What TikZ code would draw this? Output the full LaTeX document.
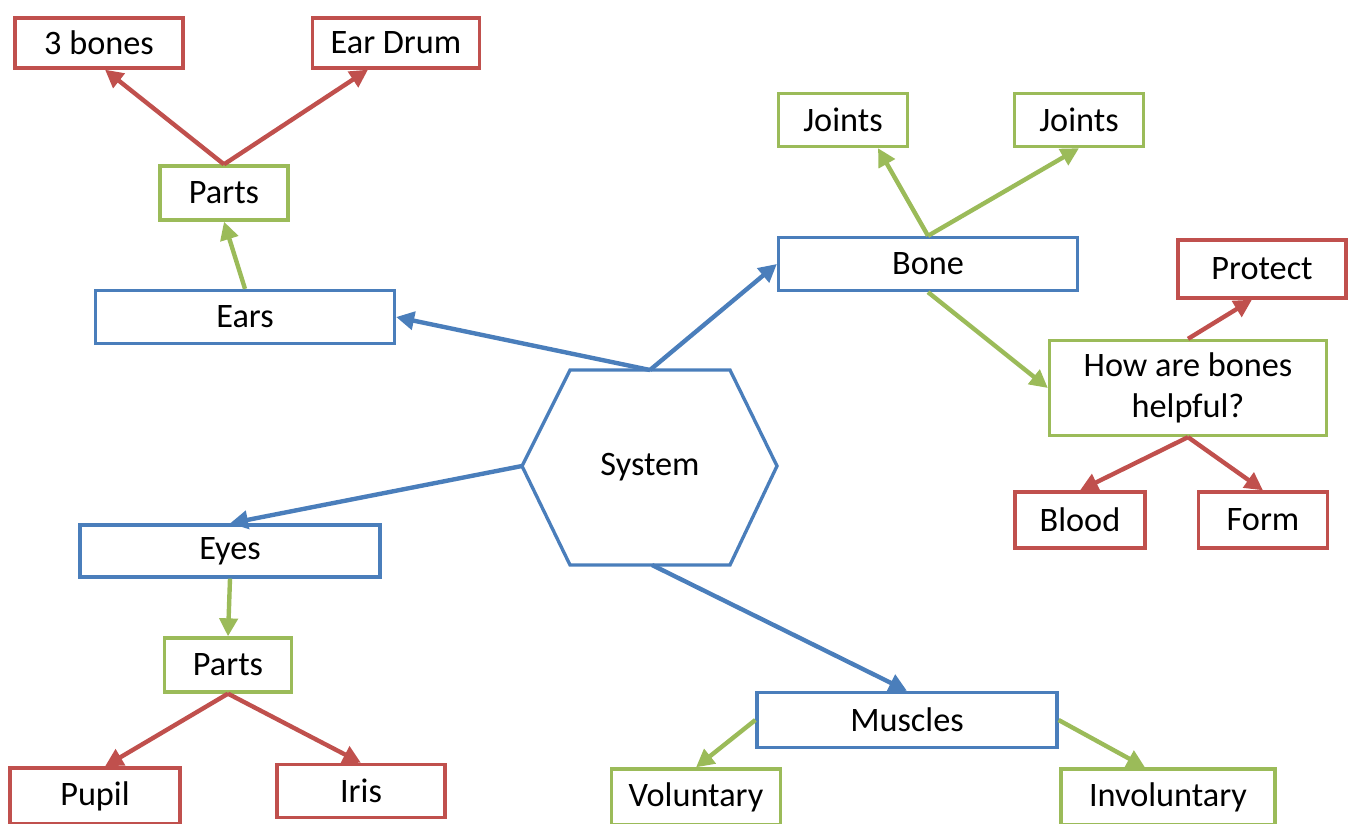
\documentclass[tikz,border=0pt]{standalone}
\usepackage{fontspec}
\setmainfont{Carlito}
\usetikzlibrary{arrows.meta,calc}
\definecolor{oblue}{RGB}{74,126,187}
\definecolor{ored}{RGB}{192,80,77}
\definecolor{ogreen}{RGB}{155,187,89}
\tikzset{
  box/.style={draw, line width=1.9pt, fill=white, inner sep=2pt, font=\fontsize{19.5}{23}\selectfont, align=center},
  bbox/.style={box, draw=oblue},
  rbox/.style={box, draw=ored},
  gbox/.style={box, draw=ogreen},
  conn/.style={line width=2.5pt, -{Triangle[length=0.36cm,width=0.36cm]}},
  bconn/.style={conn, draw=oblue, fill=oblue},
  rconn/.style={conn, draw=ored, fill=ored},
  gconn/.style={conn, draw=ogreen, fill=ogreen},
}
\begin{document}
\begin{tikzpicture}[x=0.02cm,y=-0.02cm]
\useasboundingbox (0,0) rectangle (1351,824);
% hexagon
\coordinate (hL) at (522,466);
\coordinate (hTL) at (570,370);
\coordinate (hTR) at (730,370);
\coordinate (hR) at (777,466);
\coordinate (hBR) at (730,565);
\coordinate (hBL) at (570,565);
\coordinate (hTop) at (650,370);
\coordinate (hBot) at (652,565);
\draw[oblue, line width=1.9pt, fill=white, line join=miter] (hL) -- (hTL) -- (hTR) -- (hR) -- (hBR) -- (hBL) -- cycle;
\node[font=\fontsize{19.5}{23}\selectfont] (system) at (650,467) {System};
% nodes
\node[rbox, minimum width=3.36cm, minimum height=1.0cm] (b3) at (99,43) {3 bones};
\node[rbox, minimum width=3.34cm, minimum height=1.0cm] (eardrum) at (396,43) {Ear Drum};
\node[gbox, minimum width=2.56cm, minimum height=1.08cm] (partsE) at (224,193) {Parts};
\node[bbox, minimum width=5.98cm, minimum height=1.06cm] (ears) at (245,317) {Ears};
\node[gbox, minimum width=2.58cm, minimum height=1.06cm] (joints1) at (843,120) {Joints};
\node[gbox, minimum width=2.58cm, minimum height=1.06cm] (joints2) at (1079,120) {Joints};
\node[bbox, minimum width=5.98cm, minimum height=1.06cm] (bone) at (928,264) {Bone};
\node[rbox, minimum width=3.36cm, minimum height=1.16cm] (protect) at (1262,269) {Protect};
\node[gbox, minimum width=5.54cm, minimum height=1.9cm] (how) at (1188,388) {How are bones\\helpful?};
\node[rbox, minimum width=2.6cm, minimum height=1.12cm] (blood) at (1080,520) {Blood};
\node[rbox, minimum width=2.58cm, minimum height=1.12cm] (form) at (1263,520) {Form};
\node[bbox, minimum width=6cm, minimum height=1.04cm] (eyes) at (230,551) {Eyes};
\node[gbox, minimum width=2.54cm, minimum height=1.08cm] (partsY) at (228,665) {Parts};
\node[rbox, minimum width=3.4cm, minimum height=1.12cm] (pupil) at (95,796) {Pupil};
\node[rbox, minimum width=3.36cm, minimum height=1.06cm] (iris) at (361,791) {Iris};
\node[bbox, minimum width=6cm, minimum height=1.1cm] (muscles) at (907,720) {Muscles};
\node[gbox, minimum width=3.38cm, minimum height=1.12cm] (voluntary) at (696,797) {Voluntary};
\node[gbox, minimum width=4.28cm, minimum height=1.12cm] (involuntary) at (1168,797) {Involuntary};
% connectors
\draw[bconn] (hTop) -- (ears.east);
\draw[bconn] (hTop) -- (bone.west);
\draw[bconn] (hL) -- (eyes.north);
\draw[bconn] (hBot) -- (muscles.north);
\draw[gconn] (ears.north) -- (partsE.south);
\draw[rconn] (partsE.north) -- ([xshift=0.12cm]b3.south);
\draw[rconn] (partsE.north) -- ([xshift=-0.56cm]eardrum.south);
\draw[gconn] (bone.north) -- ([xshift=0.7cm]joints1.south);
\draw[gconn] (bone.north) -- (joints2.south);
\draw[gconn] (bone.south) -- (how.west);
\draw[rconn] (how.north) -- ([xshift=-0.2cm]protect.south);
\draw[rconn] (how.south) -- (blood.north);
\draw[rconn] (how.south) -- (form.north);
\draw[gconn] (eyes.south) -- (partsY.north);
\draw[rconn] (partsY.south) -- ([xshift=0.2cm]pupil.north);
\draw[rconn] (partsY.south) -- (iris.north);
\draw[gconn] (muscles.west) -- (voluntary.north);
\draw[gconn] (muscles.east) -- ([xshift=-0.46cm]involuntary.north);
\end{tikzpicture}
\end{document}
